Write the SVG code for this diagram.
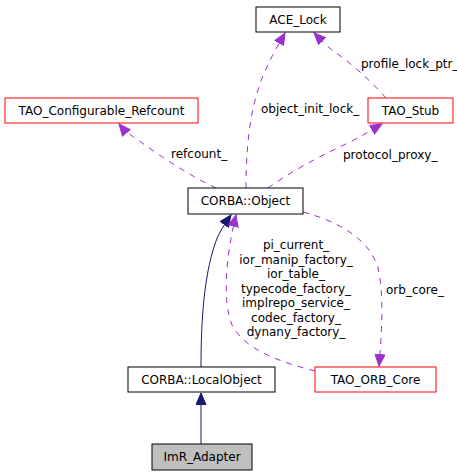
<svg xmlns="http://www.w3.org/2000/svg" width="457" height="475" viewBox="0 0 457 475">
<defs>
<style>
.box{fill:#ffffff;stroke:#000000;stroke-width:1}
.red{fill:#ffffff;stroke:#ff0000;stroke-width:1}
.gray{fill:#bfbfbf;stroke:#000000;stroke-width:1}
text{font-family:"DejaVu Sans","Liberation Sans",sans-serif;font-size:12px;fill:#000000}
.c{text-anchor:middle}
.use{fill:none;stroke:#9a32cd;stroke-width:1;stroke-dasharray:6,6}
.inh{fill:none;stroke:#191970;stroke-width:1}
</style>
<marker id="ap" markerWidth="13" markerHeight="11" refX="12" refY="5.5" orient="auto" markerUnits="userSpaceOnUse">
<path d="M0.5,0.5 L12,5.5 L0.5,10.5 Z" fill="#9a32cd" stroke="#9a32cd"/>
</marker>
<marker id="an" markerWidth="13" markerHeight="11" refX="12" refY="5.5" orient="auto" markerUnits="userSpaceOnUse">
<path d="M0.5,0.5 L12,5.5 L0.5,10.5 Z" fill="#191970" stroke="#191970"/>
</marker>
</defs>
<rect width="457" height="475" fill="#ffffff"/>
<g id="connectors">
<path class="inh" d="M201,444 L201,393" marker-end="url(#an)"/>
<path class="inh" d="M201,367 C201,320 204,270 218,236 C222,228 226,222 231,215" marker-end="url(#an)"/>
<path class="use" d="M216,188 C190,176 160,156 138,140 C130,135 124,130 119,124" marker-end="url(#ap)"/>
<path class="use" d="M246,188 C246,160 248,120 258,90 C264,70 274,52 285,33" marker-end="url(#ap)"/>
<path class="use" d="M268,188 C290,172 320,156 348,143 C360,137 370,131 382,124" marker-end="url(#ap)"/>
<path class="use" d="M386,98 C370,80 350,62 332,50 C326,45 320,39 314,33" marker-end="url(#ap)"/>
<path class="use" d="M303,212 C340,222 370,240 378,268 C384,295 382,330 379,366" marker-end="url(#ap)"/>
<path class="use" d="M315,371 C280,362 245,350 232,325 C222,300 226,255 236,215" marker-end="url(#ap)"/>
<g>
<text x="171" y="158">refcount_</text>
<text x="261" y="113">object_init_lock_</text>
<text x="343" y="159">protocol_proxy_</text>
<text x="361" y="68">profile_lock_ptr_</text>
<text x="386" y="294">orb_core_</text>
<text class="c" x="296" y="249">pi_current_</text>
<text class="c" x="296" y="263.5">ior_manip_factory_</text>
<text class="c" x="296" y="278">ior_table_</text>
<text class="c" x="296" y="292.5">typecode_factory_</text>
<text class="c" x="296" y="307">implrepo_service_</text>
<text class="c" x="296" y="321.5">codec_factory_</text>
<text class="c" x="296" y="336">dynany_factory_</text>
</g>
</g>
<g id="ACE_Lock"><rect class="box" x="256" y="7" width="84" height="25"/><text class="c" x="298" y="24">ACE_Lock</text></g>
<g id="TAO_Stub"><rect class="red" x="368" y="98" width="85" height="25"/><text class="c" x="410.5" y="115">TAO_Stub</text></g>
<g id="TAO_Configurable_Refcount"><rect class="red" x="5" y="98" width="193" height="25"/><text class="c" x="101.5" y="115">TAO_Configurable_Refcount</text></g>
<g id="CORBA_Object"><rect class="box" x="188" y="188" width="115" height="26"/><text class="c" x="245.5" y="205">CORBA::Object</text></g>
<g id="CORBA_LocalObject"><rect class="box" x="128" y="367" width="147" height="25"/><text class="c" x="201.5" y="384">CORBA::LocalObject</text></g>
<g id="TAO_ORB_Core"><rect class="red" x="315" y="367" width="121" height="25"/><text class="c" x="375.5" y="384">TAO_ORB_Core</text></g>
<g id="ImR_Adapter"><rect class="gray" x="152" y="444" width="100" height="26"/><text class="c" x="202" y="461">ImR_Adapter</text></g>
</svg>
